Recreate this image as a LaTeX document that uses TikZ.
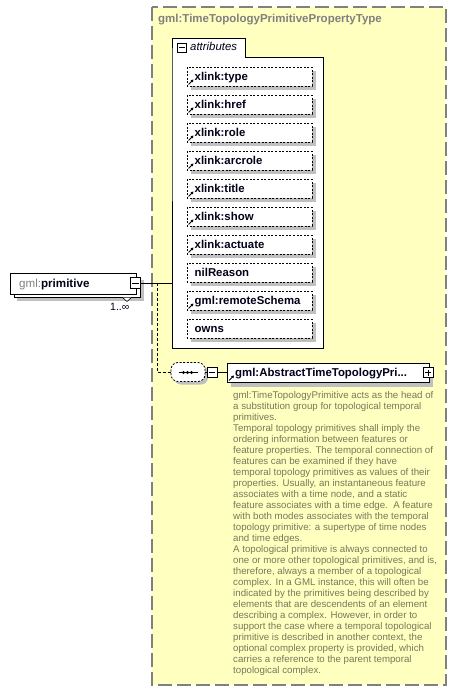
\documentclass[tikz,border=0pt]{standalone}
\usepackage{fontspec}
\setmainfont{Liberation Sans}
\usetikzlibrary{arrows.meta}
\definecolor{ybg}{RGB}{255,255,192}
\definecolor{ybd}{RGB}{128,128,128}
\definecolor{shd}{RGB}{192,192,192}
\definecolor{dtx}{RGB}{120,120,90}
\definecolor{lbl}{RGB}{0,0,24}
\begin{document}
\begin{tikzpicture}[x=1pt,y=-1pt,
  shadowbox/.style={fill=shd,draw=none},
  attrbox/.style={draw=black,fill=white,line width=0.8pt,dash pattern=on 2pt off 1.6pt},
  solidbox/.style={draw=black,fill=white,line width=0.8pt},
  lbltext/.style={anchor=base west,inner sep=0,text=lbl,font=\bfseries\fontsize{11.4}{13}\selectfont},
  desctext/.style={anchor=base west,inner sep=0,text=dtx,font=\fontsize{9.7}{11}\selectfont},
  refarrow/.style={-{Triangle[length=2.6pt,width=2.8pt]},line width=1pt,black},
  conn/.style={draw=black,line width=0.8pt},
  dconn/.style={draw=black,line width=0.8pt,dash pattern=on 3pt off 2pt}]
\useasboundingbox (0,0) rectangle (457,692);
\fill[white] (0,0) rectangle (457,692);

% complex type background
\draw[draw=ybd,fill=ybg,line width=1.3pt,dash pattern=on 14pt off 5pt] (152,7) rectangle (446,685);
\node[anchor=base west,inner sep=0,text=ybd,font=\bfseries\fontsize{11.5}{13}\selectfont] (title) at (158,23) {gml:TimeTopologyPrimitivePropertyType};

% attributes container
\draw[solidbox] (172,57) -- (172,38) -- (245,38) -- (245,57) -- (323,57) -- (323,348) -- (172,348) -- cycle;
\node[draw=black,fill=white,line width=0.7pt,minimum width=9pt,minimum height=9pt,inner sep=0] (attrminus) at (181.5,47.5) {};
\draw[line width=0.7pt] (178.5,47.5) -- (184.5,47.5);
\node[anchor=base west,inner sep=0,text=lbl,font=\itshape\fontsize{11.4}{13}\selectfont] (attrlbl) at (190,51) {attributes};
\coordinate (attrwest) at (172,283);

% attribute items
\foreach \lab/\ref [count=\i from 0] in {xlink:type/1,xlink:href/1,xlink:role/1,xlink:arcrole/1,xlink:title/1,xlink:show/1,xlink:actuate/1,nilReason/0,gml:remoteSchema/1,owns/0}{
  \pgfmathsetmacro{\t}{67+28*\i}
  \fill[shadowbox] (191,\t+4) rectangle (316,\t+23);
  \draw[attrbox] (187,\t) rectangle (312,\t+19);
  \ifnum\ref=1
    \draw[refarrow] (188.5,\t+17.5) -- (193.5,\t+12.5);
  \fi
  \node[lbltext] (a\i) at (194.5,\t+13.5) {\lab};
}

% gml:primitive element
\fill[shadowbox] (17,280) rectangle (144,301);
\draw[solidbox] (14,277) rectangle (140,297.5);
\draw[solidbox] (10,273) rectangle (136,294);
\node[anchor=base west,inner sep=0,font=\fontsize{11.6}{13}\selectfont] (prim) at (19,287.5) {\textcolor{ybd}{gml:}\textcolor{lbl}{\bfseries primitive}};
\draw[black,fill=white,line width=0.6pt] (122.5,297.5) -- (127,301.5) -- (131.5,297.5);
\node[draw=black,fill=white,line width=0.7pt,minimum width=10.5pt,minimum height=10.5pt,inner sep=0] (pminus) at (135.5,283) {};
\draw[line width=0.7pt] (132,283) -- (139,283);
\node[anchor=base west,inner sep=0,text=lbl,font=\fontsize{10.5}{12}\selectfont] (mult) at (110,310.5) {1..∞};

% connectors
\draw[conn] (pminus.east) -- (attrwest);
\coordinate (branch) at (157,283);
\coordinate (bend) at (157,372.5);

% sequence compositor
\fill[shadowbox,rounded corners=7pt] (174,365.5) rectangle (208,384.5);
\draw[attrbox,rounded corners=7pt] (171,362.5) rectangle (205,381.5);
\node[inner sep=0,minimum width=34pt,minimum height=19pt] (seq) at (188,372) {};
\draw[line width=1pt] (178.5,372.5) -- (197.5,372.5);
\foreach \x in {183.5,187.5,191.5} \fill (\x,372.5) circle (1.6pt);
\node[draw=black,fill=white,line width=0.7pt,minimum width=10pt,minimum height=10pt,inner sep=0] (sminus) at (212,372.5) {};
\draw[line width=0.7pt] (209,372.5) -- (215,372.5);
\draw[dconn] (branch) -- (bend) -- (seq.west |- bend);
\draw[conn] (205,372.5) -- (sminus.west);

% abstract element
\fill[shadowbox] (231,367) rectangle (433,386.5);
\draw[solidbox] (227,363) rectangle (429,382.5);
\node[inner sep=0,minimum width=202pt,minimum height=19.5pt] (elem) at (328,372.75) {};
\draw[conn] (sminus.east) -- (elem.west |- sminus.east);
\draw[refarrow] (229,380.5) -- (234,375.5);
\node[lbltext] (elemlbl) at (235,376.5) {gml:AbstractTimeTopologyPri...};
\node[draw=black,fill=white,line width=0.7pt,minimum width=10pt,minimum height=10pt,inner sep=0] (eplus) at (428,372.5) {};
\draw[line width=0.7pt] (425,372.5) -- (431,372.5) (428,369.5) -- (428,375.5);

% documentation
\foreach \ln [count=\j from 0] in {
{gml:TimeTopologyPrimitive acts as the head of},
{a substitution group for topological temporal},
{primitives.},
{Temporal topology primitives shall imply the},
{ordering information between features or},
{feature properties. The temporal connection of},
{features can be examined if they have},
{temporal topology primitives as values of their},
{properties. Usually, an instantaneous feature},
{associates with a time node, and a static},
{feature associates with a time edge.\ \ A feature},
{with both modes associates with the temporal},
{topology primitive: a supertype of time nodes},
{and time edges.},
{A topological primitive is always connected to},
{one or more other topological primitives, and is,},
{therefore, always a member of a topological},
{complex. In a GML instance, this will often be},
{indicated by the primitives being described by},
{elements that are descendents of an element},
{describing a complex. However, in order to},
{support the case where a temporal topological},
{primitive is described in another context, the},
{optional complex property is provided, which},
{carries a reference to the parent temporal},
{topological complex.}}{
  \node[desctext] (d\j) at (233,398+11*\j) {\ln};
}
\end{tikzpicture}
\end{document}
